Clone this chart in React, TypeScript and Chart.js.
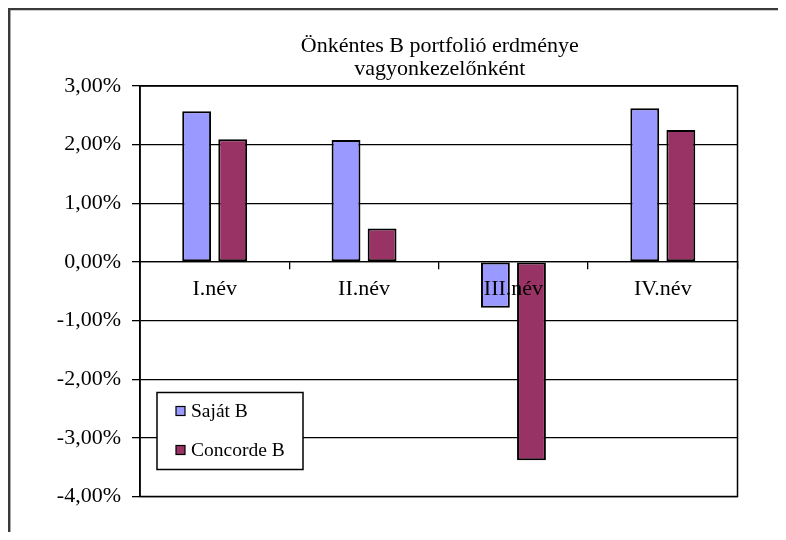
import React, { useEffect, useRef } from "react";
import { Chart, registerables } from "chart.js";

Chart.register(...registerables);

const CATEGORIES = ["I.név", "II.név", "III.név", "IV.név"];
const SAJAT_B = [2.57, 2.08, -0.78, 2.62];
const CONCORDE_B = [2.09, 0.57, -3.38, 2.25];
const SERIES_LABELS = ["Saját B", "Concorde B"];
const SERIES_COLORS = ["#9999FF", "#993366"];
const Y_MIN = -4;
const Y_MAX = 3;
const Y_STEP = 1;
const TITLE = ["Önkéntes B portfolió erdménye", "vagyonkezelőnként"];

const FONT = "'Liberation Serif', 'Times New Roman', serif";

const decorPlugin = {
  id: "decor",
  afterDraw(chart: any) {
    const { ctx, chartArea, height, width } = chart;
    const { left, right, top, bottom } = chartArea;
    ctx.save();
    // plot border
    ctx.strokeStyle = "#000";
    ctx.lineWidth = 1.5;
    ctx.strokeRect(left, top, right - left, bottom - top);

    // legend
    const bx = left + 17;
    const by = bottom - 104;
    const bw = 146;
    const bh = 77;
    ctx.fillStyle = "#fff";
    ctx.fillRect(bx, by, bw, bh);
    ctx.strokeStyle = "#000";
    ctx.lineWidth = 1.5;
    ctx.strokeRect(bx, by, bw, bh);
    const rows = [19, 58];
    chart.data.datasets.forEach((ds: any, i: number) => {
      const cy = by + rows[i];
      ctx.fillStyle = ds.backgroundColor;
      ctx.fillRect(bx + 19, cy - 5, 9, 9);
      ctx.lineWidth = 1.2;
      ctx.strokeStyle = "#000";
      ctx.strokeRect(bx + 19, cy - 5, 9, 9);
      ctx.fillStyle = "#000";
      ctx.font = `19.5px ${FONT}`;
      ctx.textBaseline = "middle";
      ctx.textAlign = "left";
      ctx.fillText(ds.label, bx + 34, cy);
    });

    // outer frame (left + top)
    ctx.strokeStyle = "#3a3a3a";
    ctx.lineWidth = 2.5;
    ctx.beginPath();
    ctx.moveTo(1.2, height);
    ctx.lineTo(1.2, 1);
    ctx.lineTo(width, 1);
    ctx.stroke();
    // title
    const cx = (left + right) / 2 + 1;
    ctx.fillStyle = "#000";
    ctx.font = `22px ${FONT}`;
    ctx.textAlign = "center";
    ctx.textBaseline = "middle";
    ctx.fillText(TITLE[0], cx, top - 40);
    ctx.fillText(TITLE[1], cx, top - 17);
    ctx.restore();
  },
};

export default function App() {
  const ref = useRef<HTMLCanvasElement | null>(null);
  useEffect(() => {
    if (!ref.current) return;
    const chart = new Chart(ref.current, {
      type: "bar",
      data: {
        labels: CATEGORIES,
        datasets: [
          {
            label: SERIES_LABELS[0],
            data: SAJAT_B,
            backgroundColor: SERIES_COLORS[0],
            borderColor: "#000",
            borderWidth: 2,
            borderSkipped: false,
            barPercentage: 0.8,
            categoryPercentage: 0.483,
          },
          {
            label: SERIES_LABELS[1],
            data: CONCORDE_B,
            backgroundColor: SERIES_COLORS[1],
            borderColor: "#000",
            borderWidth: 2,
            borderSkipped: false,
            barPercentage: 0.8,
            categoryPercentage: 0.483,
          },
        ],
      },
      options: {
        animation: false,
        responsive: true,
        maintainAspectRatio: false,
        layout: { padding: { left: 0, right: 48.5, top: 78, bottom: 43.5 } },
        plugins: {
          legend: { display: false },
          title: { display: false },
          tooltip: { enabled: false },
        },
        scales: {
          x: {
            position: { y: 0 } as any,
            offset: true,
            grid: {
              offset: true,
              drawOnChartArea: false,
              drawTicks: true,
              tickLength: 7,
              color: "#000",
              lineWidth: 1.3,
            },
            border: { display: true, color: "#000", width: 1.3, z: 1 } as any,
            ticks: {
              z: 1,
              color: "#000",
              font: { family: FONT, size: 22 },
              padding: 7,
              maxRotation: 0,
            },
          },
          y: {
            min: Y_MIN,
            max: Y_MAX,
            afterFit(scale: any) {
              scale.width = 132;
            },
            grid: {
              color: "#000",
              lineWidth: 1.3,
              drawTicks: true,
              tickLength: 8,
            },
            border: { display: true, color: "#000", width: 1.5 },
            ticks: {
              stepSize: Y_STEP,
              color: "#000",
              font: { family: FONT, size: 22 },
              padding: 11,
              callback: (v: any) => Number(v).toFixed(2).replace(".", ",") + "%",
            },
          },
        },
      },
      plugins: [decorPlugin],
    });
    return () => chart.destroy();
  }, []);
  return (
    <div style={{ width: 778, height: 532, marginBottom: -8, position: "relative" }}>
      <canvas ref={ref} />
    </div>
  );
}
